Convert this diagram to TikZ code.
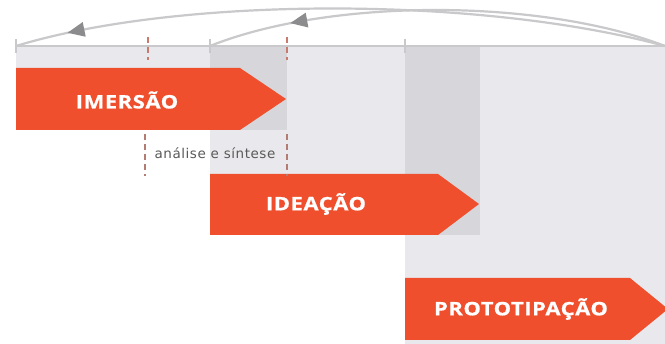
\documentclass[tikz,border=0pt]{standalone}
\usepackage{fontspec}
\setmainfont{Open Sans}
\newfontfamily\phasefont[LetterSpace=3,FakeStretch=1.18,FakeBold=0.8]{Open Sans}
\newfontfamily\notefont[LetterSpace=4]{DejaVu Sans}
\usetikzlibrary{arrows.meta,decorations.markings}
\definecolor{orng}{HTML}{EF4F2D}
\definecolor{lgray}{HTML}{E9E9ED}
\definecolor{dgray}{HTML}{D7D7DB}
\definecolor{lineg}{HTML}{C9C9CB}
\definecolor{headg}{HTML}{8C8C8E}
\definecolor{dashr}{HTML}{C97A6E}
\tikzset{
  phasebox/.style={fill=orng,draw=none},
  phaselabel/.style={text=white,font=\phasefont\bfseries\fontsize{18.6}{18.6}\selectfont,inner sep=0pt},
  loopline/.style={draw=lineg,line width=2.2pt,
    postaction={decorate,decoration={markings,mark=at position #1 with {\fill[headg] (9pt,0) -- ++(-17pt,-7.5pt) -- ++(0,15pt) -- cycle;}}}},
  tickmark/.style={draw=lineg,line width=2pt},
  redtick/.style={draw=dashr,line width=1.4pt,dash pattern=on 6pt off 4pt}
}
\begin{document}
\begin{tikzpicture}[x=1pt,y=-1pt]
\useasboundingbox (0,0) rectangle (665,344);
\fill[white] (0,0) rectangle (665,344);
% background bands
\fill[lgray] (16,46) rectangle (287,130);
\fill[lgray] (210,46) rectangle (480,235);
\fill[lgray] (405,46) rectangle (665,344);
\fill[dgray] (210,46) rectangle (287,130);
\fill[dgray] (405,46) rectangle (480,235);
% timeline
\coordinate (tl0) at (16,46);
\coordinate (tlR) at (665,46);
\coordinate (tl2) at (210,46);
\draw[draw=lineg,line width=2.6pt] (tl0) -- (tlR);
\draw[tickmark] (16,39) -- (16,53);
\draw[tickmark] (210,39) -- (210,53);
\draw[tickmark] (405,39) -- (405,53);
\draw[redtick] (148,37) -- (148,60);
\draw[redtick] (287,37) -- (287,60);
% feedback loops
\draw[loopline=0.905] (tlR) .. controls (480,-4) and (180,-4) .. (tl0);
\draw[loopline=0.8] (tlR) .. controls (540,-2) and (330,-2) .. (tl2);
% phase arrows
\fill[phasebox] (16,68) -- (240,68) -- (286,99) -- (240,130) -- (16,130) -- cycle;
\node[phaselabel] (imersao) at (127,100) {IMERSÃO};
\fill[phasebox] (210,174) -- (438,174) -- (479,204) -- (438,235) -- (210,235) -- cycle;
\node[phaselabel] (ideacao) at (316,204) {IDEAÇÃO};
\fill[phasebox] (405,278) -- (630,278) -- (668,309) -- (630,340) -- (405,340) -- cycle;
\node[phaselabel] (proto) at (521,309) {PROTOTIPAÇÃO};
% analysis and synthesis
\draw[redtick,draw=dashr!70!gray] (145,134) -- (145,176);
\draw[redtick,draw=dashr!70!gray] (287,134) -- (287,176);
\node[text=black!65,font=\notefont\fontsize{13.5}{13.5}\selectfont,inner sep=0pt] (analise) at (215,153) {análise e síntese};
\end{tikzpicture}
\end{document}
